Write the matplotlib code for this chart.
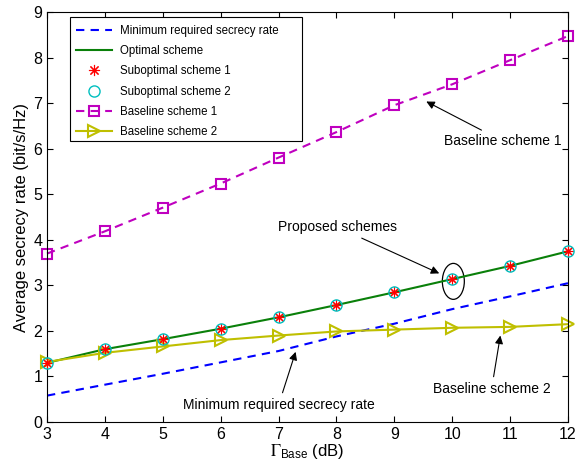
import matplotlib
matplotlib.use('Agg')
import matplotlib.pyplot as plt
from matplotlib.patches import Ellipse, Rectangle

plt.rcParams['font.family'] = ['Liberation Sans', 'DejaVu Sans']
plt.rcParams['mathtext.fontset'] = 'stix'

gamma = [3, 4, 5, 6, 7, 8, 9, 10, 11, 12]
min_rate = [0.58, 0.82, 1.06, 1.31, 1.56, 1.88, 2.16, 2.48, 2.76, 3.05]
optimal = [1.30, 1.60, 1.82, 2.05, 2.30, 2.57, 2.85, 3.14, 3.43, 3.75]
subopt1 = [1.30, 1.60, 1.82, 2.05, 2.30, 2.57, 2.85, 3.14, 3.43, 3.75]
subopt2 = [1.30, 1.60, 1.82, 2.05, 2.30, 2.57, 2.85, 3.14, 3.43, 3.75]
baseline1 = [3.70, 4.19, 4.71, 5.24, 5.81, 6.37, 6.96, 7.42, 7.95, 8.48]
baseline2 = [1.32, 1.52, 1.66, 1.80, 1.90, 1.99, 2.03, 2.07, 2.09, 2.15]

fig = plt.figure(figsize=(5.84, 4.66), dpi=100)
ax = fig.add_axes([0.0805, 0.0944, 0.892, 0.879])

ax.plot(gamma, min_rate, color='#0000ff', linestyle=(0, (4, 3)), linewidth=1.5,
        label='Minimum required secrecy rate')
ax.plot(gamma, optimal, color='#0a800a', linewidth=1.5, label='Optimal scheme')
ax.plot(gamma, subopt1, linestyle='none', marker=(8, 2, 0), color='red', markersize=8,
        markeredgewidth=0.8, label='Suboptimal scheme 1', zorder=4, clip_on=False)
ax.plot(gamma, subopt2, linestyle='none', marker='o', markerfacecolor='none',
        markeredgecolor='#00bfbf', markersize=8, markeredgewidth=1.0,
        label='Suboptimal scheme 2', zorder=4, clip_on=False)
ax.plot(gamma, baseline1, color='#bf00bf', linestyle=(0, (4, 3)), linewidth=1.5,
        marker='s', markerfacecolor='none', markersize=7, markeredgewidth=1.5,
        label='Baseline scheme 1', clip_on=False)
ax.plot(gamma, baseline2, color='#bfbf00', linewidth=1.5, marker='>',
        markerfacecolor='none', markersize=9, markeredgewidth=1.5,
        label='Baseline scheme 2', clip_on=False)

ax.set_xlim(3, 12)
ax.set_ylim(0, 9)
ax.set_xticks(gamma)
ax.set_yticks(range(10))
ax.tick_params(direction='in', top=True, right=True, labelsize=11.5, length=4)
ax.set_xlabel(r'$\Gamma_{\mathregular{Base}}$ (dB)', fontsize=12, labelpad=0)
ax.set_ylabel('Average secrecy rate (bit/s/Hz)', fontsize=12, labelpad=3)

# legend box drawn by hand (MATLAB-style wide frame)
ax.add_patch(Rectangle((0.0436, 0.686), 0.4458, 0.3025, transform=ax.transAxes,
                       facecolor='white', edgecolor='black', linewidth=0.8, zorder=5))
leg = ax.legend(loc='upper left', bbox_to_anchor=(0.056, 0.970), borderaxespad=0,
                fontsize=8.3, frameon=False, borderpad=0,
                handlelength=3.1, handletextpad=0.7, labelspacing=0.72)
leg.set_zorder(6)

ax.add_patch(Ellipse((10.02, 3.09), 0.38, 0.79, fill=False, edgecolor='black', linewidth=0.9))

arrow = dict(arrowstyle='-|>', color='black', linewidth=0.8, mutation_scale=12)
ax.annotate('Baseline scheme 1', xy=(9.51, 7.07), xytext=(9.86, 6.17),
            fontsize=10, ha='left', va='center', arrowprops=arrow)
ax.annotate('Proposed schemes', xy=(9.82, 3.24), xytext=(9.05, 4.28),
            fontsize=10, ha='right', va='center', arrowprops=arrow)
ax.annotate('Minimum required secrecy rate', xy=(7.31, 1.6), xytext=(7.0, 0.37),
            fontsize=10, ha='center', va='center', arrowprops=arrow)
ax.annotate('Baseline scheme 2', xy=(10.84, 1.96), xytext=(10.68, 0.72),
            fontsize=10, ha='center', va='center', arrowprops=arrow)

fig.savefig('out.png', dpi=100)
